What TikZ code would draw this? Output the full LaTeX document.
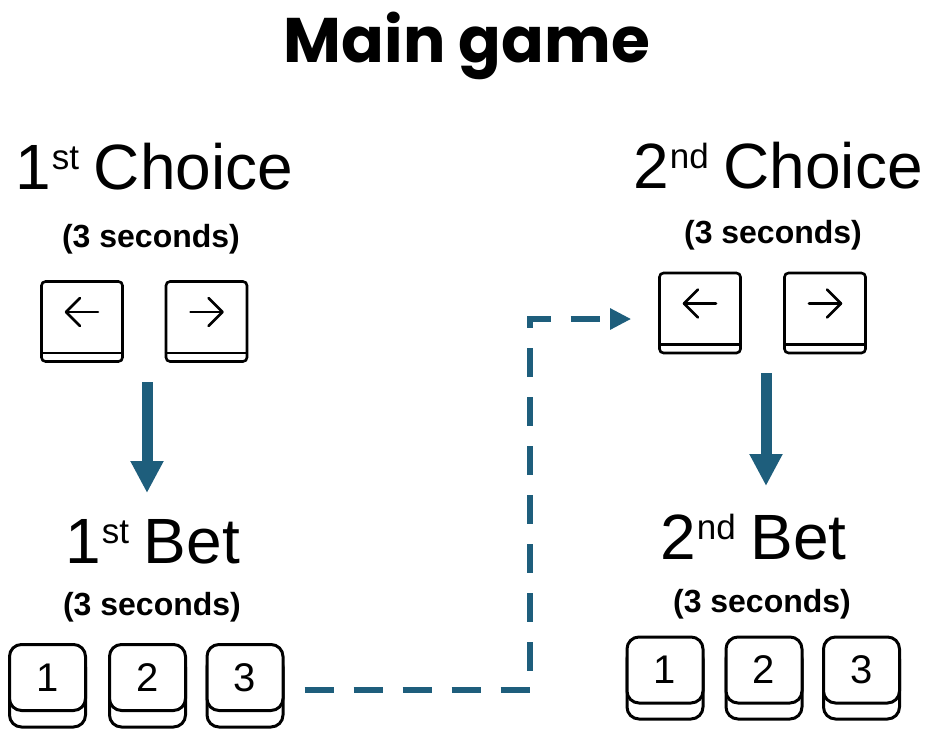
\documentclass[tikz,border=0pt]{standalone}
\usepackage{fontspec}
\setmainfont{Liberation Sans}
\newfontfamily\titlefont{Poppins}
\usetikzlibrary{arrows.meta,calc}
\definecolor{flow}{RGB}{30,94,124}
\newcommand\supr[1]{\kern1pt\raisebox{20pt}{\fontsize{35}{35}\selectfont #1}\kern-3pt\relax}
\begin{document}
\begin{tikzpicture}[x=1pt,y=-1pt,
  bigfont/.style={font=\fontsize{64}{64}\selectfont, inner sep=0pt},
  secfont/.style={font=\fontsize{32}{32}\selectfont\bfseries, inner sep=0pt},
  akey/.style={draw, line width=2.6pt, rounded corners=4pt, minimum width=81pt, minimum height=80pt, inner sep=0pt},
  nkeyback/.style={draw, line width=3pt, rounded corners=12pt, minimum width=76pt, minimum height=72pt, fill=white, inner sep=0pt},
  nkeyfront/.style={draw, line width=3pt, rounded corners=12pt, minimum width=76pt, minimum height=66pt, fill=white, inner sep=0pt, font=\fontsize{40}{40}\selectfont},
  glyph/.style={line width=2.6pt, line cap=round, line join=round},
  solidarrow/.style={draw=flow, line width=11pt, -{Triangle[length=32pt,width=31pt]}},
  dashconn/.style={draw=flow, line width=5.5pt, dash pattern=on 29pt off 20pt, -{Triangle[length=21pt,width=20pt]}}
]
\useasboundingbox (0,0) rectangle (934,736);

% title
\node[anchor=base, inner sep=0pt, font=\titlefont\fontsize{63}{63}\selectfont\bfseries] (title) at (467,62) {Main game};

% labels
\node[bigfont, anchor=base west] (c1) at (15,189) {1\supr{st} Choice};
\node[secfont, anchor=base] (c1s) at (151,247) {(3 seconds)};
\node[bigfont, anchor=base west] (c2) at (633,188) {2\supr{nd} Choice};
\node[secfont, anchor=base] (c2s) at (773,243) {(3 seconds)};
\node[bigfont, anchor=base west] (b1) at (65,563) {1\supr{st} Bet};
\node[secfont, anchor=base] (b1s) at (152,615) {(3 seconds)};
\node[bigfont, anchor=base west] (b2) at (660,559) {2\supr{nd} Bet};
\node[secfont, anchor=base] (b2s) at (762,612) {(3 seconds)};

% arrow keys, first choice
\node[akey] (k1l) at (82,321.5) {};
\node[akey] (k1r) at (206.5,321.5) {};
% arrow keys, second choice
\node[akey] (k2l) at (700,313) {};
\node[akey] (k2r) at (825,313) {};
\foreach \k in {k1l,k1r,k2l,k2r}{
  \draw[line width=2.6pt] ([yshift=10pt]\k.south west) -- ([yshift=10pt]\k.south east);
}
\foreach \k in {k1l,k2l}{
  \draw[glyph] ($(\k.center)+(16,-9.5)$) -- ($(\k.center)+(-16,-9.5)$);
  \draw[glyph] ($(\k.center)+(-2,-23.5)$) -- ($(\k.center)+(-16,-9.5)$) -- ($(\k.center)+(-2,4.5)$);
}
\foreach \k in {k1r,k2r}{
  \draw[glyph] ($(\k.center)+(-16,-9.5)$) -- ($(\k.center)+(16,-9.5)$);
  \draw[glyph] ($(\k.center)+(2,-23.5)$) -- ($(\k.center)+(16,-9.5)$) -- ($(\k.center)+(2,4.5)$);
}

% number keys, first bet
\node[nkeyback] (n1a) at (47.5,691) {};
\node[nkeyfront] (n1) at (47.5,677.5) {1};
\node[nkeyback] (n2a) at (147.5,691) {};
\node[nkeyfront] (n2) at (147.5,677.5) {2};
\node[nkeyback] (n3a) at (245,691) {};
\node[nkeyfront] (n3) at (245,677.5) {3};
% number keys, second bet
\node[nkeyback] (m1a) at (665,683) {};
\node[nkeyfront] (m1) at (665,670) {1};
\node[nkeyback] (m2a) at (764,683) {};
\node[nkeyfront] (m2) at (764,670) {2};
\node[nkeyback] (m3a) at (861.5,683) {};
\node[nkeyfront] (m3) at (861.5,670) {3};

% connectors
\coordinate (d1s) at (147,382);
\coordinate (d1e) at (147,493);
\coordinate (d2s) at (766,373);
\coordinate (d2e) at (766,486);
\draw[solidarrow] (d1s) -- (d1e);
\draw[solidarrow] (d2s) -- (d2e);

\coordinate (bendA) at (530,690);
\coordinate (bendB) at (530,319);
\draw[dashconn] ([xshift=20pt,yshift=1pt]n3a.east) -- (bendA) -- (bendB) -- ([xshift=-27pt,yshift=-6pt]k2l.west);
\end{tikzpicture}
\end{document}
